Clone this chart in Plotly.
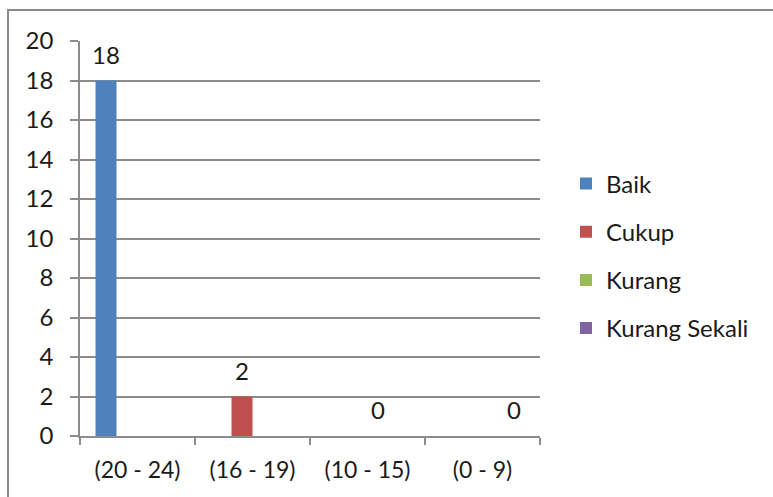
import plotly.graph_objects as go

# Score ranges on the category axis
categories = ["(20 - 24)", "(16 - 19)", "(10 - 15)", "(0 - 9)"]

# Number of students per rating
baik = [18, None, None, None]
cukup = [None, 2, None, None]
kurang = [None, None, 0, None]
kurang_sekali = [None, None, None, 0]

series_names = ["Baik", "Cukup", "Kurang", "Kurang Sekali"]
series_values = [baik, cukup, kurang, kurang_sekali]
series_colors = ["#4F81BD", "#C0504D", "#9BBB59", "#8064A2"]

W, H = 773, 497
FONT = "Lato"
FS = 24
TXT = "#1a1a1a"
GRID = "#8c8c8c"

fig = go.Figure()
for name, vals, color in zip(series_names, series_values, series_colors):
    # value label in large type, followed by a short blank line that lifts it off the bar
    labels = [
        "" if v is None else f"<span style='font-size:{FS}px'>{v}</span><br> "
        for v in vals
    ]
    fig.add_trace(go.Bar(
        name=name,
        x=categories,
        y=vals,
        marker=dict(color=color, line=dict(width=0)),
        text=labels,
        texttemplate="%{text}",
        textposition="outside",
        constraintext="none",
        textfont=dict(family=FONT, size=9, color=TXT),
        cliponaxis=False,
        legendgroup=name,
    ))

# chart frame
fig.add_shape(
    type="rect", xref="paper", yref="paper",
    x0=(8 - 80) / (W - 80 - 233), x1=1 + 300 / (W - 80 - 233),
    y0=-200 / (H - 41 - 61), y1=1 + 31 / (H - 41 - 61),
    line=dict(color="#8a8a8a", width=2), fillcolor="rgba(0,0,0,0)",
    layer="below",
)

fig.update_layout(
    width=W, height=H,
    margin=dict(l=80, r=233, t=41, b=61),
    paper_bgcolor="white", plot_bgcolor="white",
    barmode="group", bargap=0.27, bargroupgap=0,
    font=dict(family=FONT, size=FS, color=TXT),
    showlegend=True,
    legend=dict(
        x=1 + 26 / 460, xanchor="left", xref="paper",
        y=0.456, yanchor="middle",
        font=dict(family=FONT, size=FS, color=TXT),
        traceorder="grouped", tracegroupgap=14,
        itemwidth=30, bgcolor="rgba(0,0,0,0)",
    ),
    xaxis=dict(
        showline=True, linecolor=GRID, linewidth=1.5,
        ticks="outside", tickson="boundaries", ticklen=7,
        tickcolor=GRID, tickwidth=1.5,
        showgrid=False, ticklabelstandoff=13,
        tickfont=dict(size=23),
    ),
    yaxis=dict(
        range=[0, 20], dtick=2, tick0=0,
        showline=True, linecolor=GRID, linewidth=1.5,
        ticks="outside", ticklen=8, tickcolor=GRID, tickwidth=1.5,
        showgrid=True, gridcolor=GRID, gridwidth=1.5,
        zeroline=False, ticklabelstandoff=12,
    ),
)

fig.write_html("out.html")
